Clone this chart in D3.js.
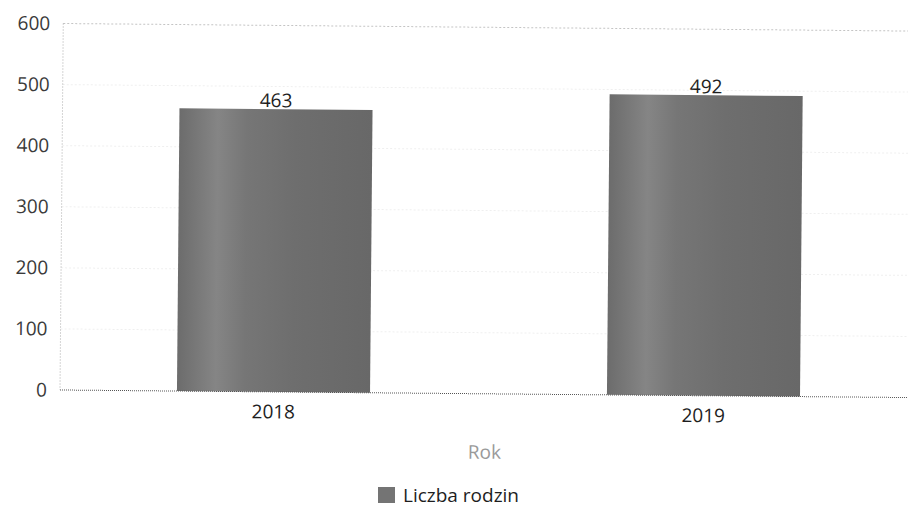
<!DOCTYPE html>
<html><head><meta charset="utf-8">
<script src="https://cdn.jsdelivr.net/npm/d3@7"></script>
<style>body{margin:0;background:#fff}svg{display:block}</style>
</head><body>
<svg id="c" width="908" height="507"></svg>
<script>
const categories = ["2018", "2019"];
const values = [463, 492];
const yTicks = [0, 100, 200, 300, 400, 500, 600];
const seriesName = "Liczba rodzin";
const axisTitle = "Rok";

const svg = d3.select("#c");
const font = "'Open Sans', 'Noto Sans', sans-serif";
const m = {left: 60, top: 23.5};
const iw = 848, ih = 366.5;
const fs = 19;

const defs = svg.append("defs");
const g1 = defs.append("linearGradient").attr("id", "barg").attr("x1", "0").attr("x2", "1").attr("y1", "0").attr("y2", "0");
[["0%", "#6c6c6c"], ["20%", "#858585"], ["35%", "#767676"], ["60%", "#6e6e6e"], ["100%", "#686868"]]
  .forEach(([o, c]) => g1.append("stop").attr("offset", o).attr("stop-color", c));

const root = svg.append("g").attr("transform", `rotate(0.51, ${m.left}, ${m.top + ih})`);
const g = root.append("g").attr("transform", `translate(${m.left},${m.top})`);

const x = d3.scaleBand().domain(categories).range([0, 857]).paddingInner(0.551).paddingOuter(0.272);
const y = d3.scaleLinear().domain([0, 600]).range([ih, 0]);

// grid
g.selectAll(".grid").data(yTicks.filter(t => t > 0)).join("line")
  .attr("x1", 0).attr("x2", iw)
  .attr("y1", d => y(d)).attr("y2", d => y(d))
  .attr("stroke", d => d === 600 ? "#c4c4c4" : "#efefef")
  .attr("stroke-dasharray", "2,2");

// left axis dotted line
g.append("line").attr("x1", 0).attr("x2", 0).attr("y1", 0).attr("y2", ih)
  .attr("stroke", "#aaa").attr("stroke-dasharray", "1,2");

// y axis labels
const ya = g.append("g").call(d3.axisLeft(y).tickValues(yTicks).tickSize(0).tickPadding(13));
ya.select(".domain").remove();
ya.selectAll("text").attr("font-family", font).attr("font-size", fs).attr("fill", "#3a3a3a");

// bars
g.selectAll(".bar").data(values).join("rect")
  .attr("x", (d, i) => x(categories[i]))
  .attr("width", x.bandwidth())
  .attr("y", d => y(d))
  .attr("height", d => ih - y(d))
  .attr("fill", "url(#barg)");

// value labels
g.selectAll(".vl").data(values).join("text")
  .attr("x", (d, i) => x(categories[i]) + x.bandwidth() / 2)
  .attr("y", d => y(d) - 2)
  .attr("text-anchor", "middle")
  .attr("font-family", font).attr("font-size", fs).attr("fill", "#1e1e1e")
  .text(d => d);

// baseline
g.append("line").attr("x1", 0).attr("x2", iw).attr("y1", ih).attr("y2", ih)
  .attr("stroke", "#555").attr("stroke-dasharray", "1,1");

// x axis labels
const xa = g.append("g").attr("transform", `translate(0,${ih})`)
  .call(d3.axisBottom(x).tickSize(0).tickPadding(13));
xa.select(".domain").remove();
xa.selectAll("text").attr("font-family", font).attr("font-size", fs).attr("fill", "#1e1e1e");

// axis title
g.append("text").attr("x", 425).attr("y", ih + 65)
  .attr("text-anchor", "middle").attr("font-family", font).attr("font-size", fs)
  .attr("fill", "#9a9a9a").text(axisTitle);

// legend
const lg = svg.append("g").attr("transform", `translate(378, 487)`);
lg.append("rect").attr("width", 17).attr("height", 16).attr("fill", "#747474");
lg.append("text").attr("x", 25).attr("y", 14.5).attr("font-family", font)
  .attr("font-size", fs).attr("fill", "#1e1e1e").text(seriesName);
</script>
</body></html>
